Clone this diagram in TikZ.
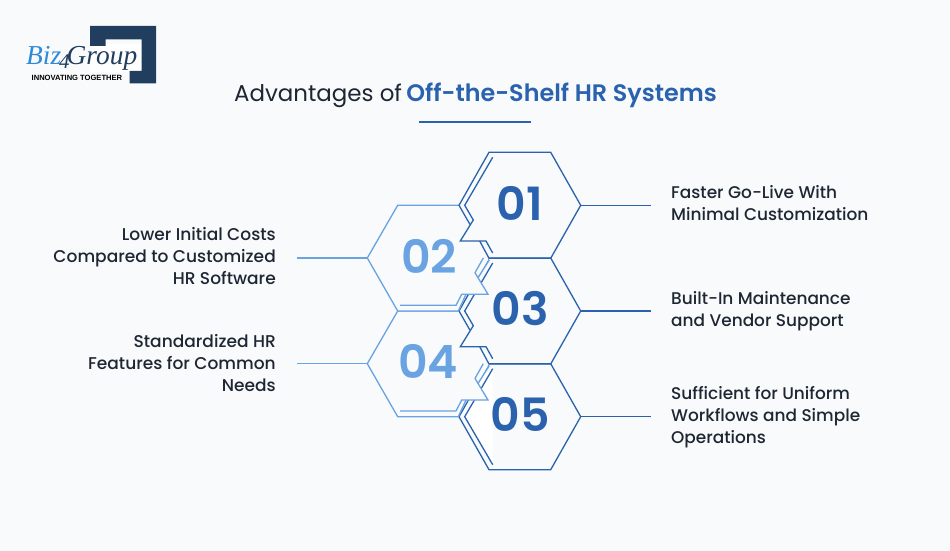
\documentclass[tikz,border=0pt]{standalone}
\usepackage{fontspec}
\setmainfont{Poppins}[UprightFont=* Medium,BoldFont=* SemiBold]
\newfontfamily\titlereg{Poppins}
\newfontfamily\logoserif{Liberation Serif}
\newfontfamily\logosans{Liberation Sans}
\definecolor{pagebg}{HTML}{F8FAFC}
\definecolor{deepblue}{HTML}{2A62AE}
\definecolor{lightblue}{HTML}{6AA3E2}
\definecolor{logoblue}{HTML}{2F8AD8}
\definecolor{inkc}{HTML}{1E2633}
\definecolor{navyc}{HTML}{213E5E}
\tikzset{
  darkline/.style={draw=deepblue,line width=1.3bp,line join=miter},
  lightline/.style={draw=lightblue,line width=1.3bp,line join=miter},
  numdark/.style={text=deepblue,font=\fontsize{46}{46}\selectfont\bfseries,inner sep=0pt},
  numlight/.style={text=lightblue,font=\fontsize{46}{46}\selectfont\bfseries,inner sep=0pt},
  rlabel/.style={text=inkc,font=\fontsize{17}{22}\selectfont,align=left,anchor=west,inner sep=0pt},
  llabel/.style={text=inkc,font=\fontsize{17.1}{22}\selectfont,align=right,anchor=east,inner sep=0pt},
  connd/.style={draw=deepblue,line width=1.2bp},
  connl/.style={draw=lightblue,line width=1.2bp},
}
\newcommand{\darkhex}[1]{%
  \begin{scope}[shift={(0,#1)}]
    \path[darkline] (470,224.5) -- (459,205.3) -- (489,152.3) -- (550.7,152.3) -- (580.7,205.3) -- (550.7,258.3) -- (489,258.3) -- (479.7,241);
    \path[darkline] (492.7,157.3) -- (464.7,205.3) -- (473.3,220) -- (460.3,241) -- (486,241) -- (492.7,253);
  \end{scope}}
\newcommand{\lighthex}[1]{%
  \begin{scope}[shift={(0,#1)}]
    \fill[pagebg] (397.7,205.3) -- (459,205.3) -- (480,241) -- (489,258.3) -- (478,277.7) -- (488,294.3) -- (466,294.3) -- (458.3,311) -- (397.7,311) -- (367.3,258) -- cycle;
    \path[lightline] (459,205.3) -- (397.7,205.3) -- (367.3,258) -- (397.7,311) -- (458.3,311) -- (466,294.3);
    \path[lightline] (483.3,258) -- (475,272.7) -- (488,294.3) -- (461.7,294.3) -- (456,305.3) -- (400,305.3);
    \path[lightline] (489.3,260) -- (478,277.7);
  \end{scope}}
\begin{document}
\begin{tikzpicture}[x=1bp,y=-1bp]
\useasboundingbox (0,0) rectangle (950,551);
\fill[pagebg] (0,0) rectangle (950,551);

% logo
\fill[white] (90,44) rectangle (141.7,72);
\fill[navyc] (90,26) -- (156,26) -- (156,83.5) -- (129.5,83.5) -- (129.5,71) -- (141.7,71) -- (141.7,39.3) -- (105.7,39.3) -- (105.7,46) -- (90,46) -- cycle;
\node[anchor=base west,inner sep=0pt] (logoname) at (26,65) {\logoserif\itshape\fontsize{27.5}{27.5}\selectfont\textcolor{logoblue}{Biz}\textcolor{navyc}{\kern-2pt\raisebox{-3.5pt}{\fontsize{21}{21}\selectfont 4}\kern-3pt\fontsize{27.5}{27.5}\selectfont Group}};
\node[anchor=base west,inner sep=0pt,text=black] (logotag) at (31.5,80.5) {\logosans\bfseries\fontsize{7.6}{8}\selectfont INNOVATING TOGETHER};

% title
\node[anchor=mid west,inner sep=0pt,text=inkc] (title) at (234,99) {\fontsize{23}{28}\selectfont\titlereg Advantages of\hspace{4.5bp}\normalfont\fontsize{23.95}{28}\selectfont\textcolor{deepblue}{\bfseries Off-the-Shelf HR Systems}};
\coordinate (ruleA) at (419,122);
\coordinate (ruleB) at (531,122);
\draw[deepblue,line width=1.4bp] (ruleA) -- (ruleB);

% patch inside hexagon 05
\fill[white] (492.7,369) -- (475,378.4) -- (488,400) -- (461.7,400) -- (464.7,417) -- (492.7,464.6) -- cycle;

% hexagon 05: double left side, no notch
\path[darkline] (459,416.7) -- (489,363.7) -- (550.7,363.7) -- (580.7,416.7) -- (550.7,469.7) -- (489,469.7) -- cycle;
\path[darkline] (492.7,368.7) -- (464.7,416.7) -- (492.7,464.7);

% hexagons, back to front
\lighthex{105.7}
\darkhex{105.7}
\lighthex{0}
\darkhex{0}

% numbers
\node[numdark]  (n01) at (520,203) {01};
\node[numlight] (n02) at (429,256) {02};
\node[numdark]  (n03) at (520,309) {03};
\node[numlight] (n04) at (428,361.5) {04};
\node[numdark]  (n05) at (520,414) {05};

% labels
\node[rlabel] (l01) at (671,203) {Faster Go-Live With\\Minimal Customization};
\node[rlabel] (l03) at (671,311) {Built-In Maintenance\\and Vendor Support};
\node[rlabel] (l05) at (671,417) {Sufficient for Uniform\\Workflows and Simple\\Operations};
\node[llabel] (l02) at (276,256) {Lower Initial Costs\\Compared to Customized\\HR Software};
\node[llabel] (l04) at (276,363) {Standardized HR\\Features for Common\\Needs};

% connectors
\coordinate (h01) at (580.7,205.3);
\coordinate (h03) at (580.7,311);
\coordinate (h05) at (580.7,416.7);
\coordinate (h02) at (367.3,258);
\coordinate (h04) at (367.3,363.7);
\draw[connd,shorten >=20bp] (h01) -- (l01.west |- h01);
\draw[connd,shorten >=20bp] (h03) -- (l03.west |- h03);
\draw[connd,shorten >=20bp] (h05) -- (l05.west |- h05);
\draw[connl,shorten >=21bp] (h02) -- (l02.east |- h02);
\draw[connl,shorten >=21bp] (h04) -- (l04.east |- h04);
\end{tikzpicture}
\end{document}
